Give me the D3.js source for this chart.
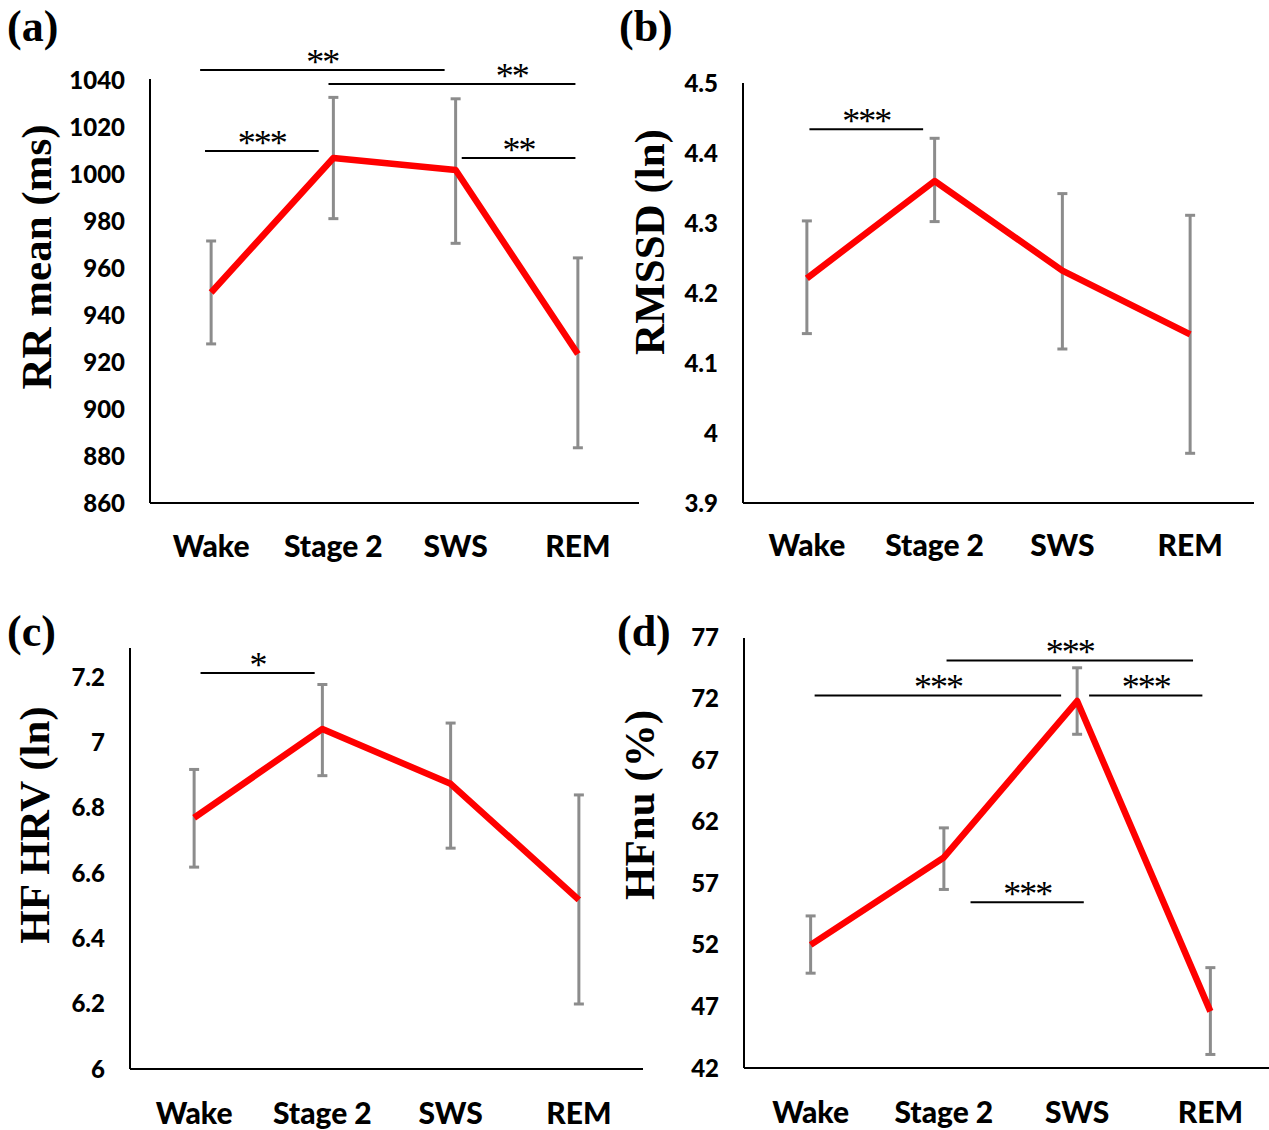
<!DOCTYPE html>
<meta charset="utf-8">
<style>
	body { margin: 0; background: #fff; }
	.axis-line { stroke: #000; stroke-width: 2px; }
	.tick-label { font-family: Lato, "Open Sans", sans-serif; font-weight: 900; font-size: 24px; fill: #000; }
	.cat-label { font-family: Lato, "Open Sans", sans-serif; font-weight: 900; font-size: 30px; fill: #000; }
	.y-title { font-family: "Liberation Serif", serif; font-weight: 700; font-size: 43px; fill: #000; }
	.panel-label { font-family: "Liberation Serif", serif; font-weight: 700; font-size: 44px; fill: #000; }
	.errbar { stroke: #8c8c8c; stroke-width: 3px; fill: none; }
	.series { stroke: #ff0000; stroke-width: 6.5px; fill: none; stroke-linejoin: round; }
	.sig line { stroke: #000; stroke-width: 2px; }
	.sig text { font-family: "Liberation Serif", serif; font-size: 36px; letter-spacing: -2px; fill: #000; }
</style>
<svg width="1269" height="1130"></svg>
<script src="https://d3js.org/d3.v7.min.js"></script>
<script>

	var stages = ["Wake", "Stage 2", "SWS", "REM"];

	// (a) RR mean
	var rrMean = [949.6, 1006.8, 1001.7, 923.4];
	var rrLow = [927.7, 981, 970.5, 883.5];
	var rrHigh = [971.5, 1032.6, 1032, 964.3];
	var rrTicks = [860, 880, 900, 920, 940, 960, 980, 1000, 1020, 1040];
	var rrSig = [
		{ from: -0.09, to: 1.91, y: 1044.3, label: "**" },
		{ from: 0.96, to: 2.98, y: 1038.3, label: "**", at: 2.46 },
		{ from: -0.05, to: 0.88, y: 1009.8, label: "***" },
		{ from: 2.05, to: 2.98, y: 1006.8, label: "**" }
	];

	// (b) RMSSD
	var rmssdMean = [4.221, 4.36, 4.232, 4.141];
	var rmssdLow = [4.142, 4.302, 4.12, 3.971];
	var rmssdHigh = [4.303, 4.421, 4.342, 4.311];
	var rmssdTicks = [3.9, 4, 4.1, 4.2, 4.3, 4.4, 4.5];
	var rmssdSig = [
		{ from: 0.02, to: 0.91, y: 4.434, label: "***" }
	];

	// (c) HF HRV
	var hfMean = [6.769, 7.041, 6.873, 6.518];
	var hfLow = [6.618, 6.898, 6.676, 6.199];
	var hfHigh = [6.917, 7.177, 7.059, 6.839];
	var hfTicks = [6, 6.2, 6.4, 6.6, 6.8, 7, 7.2];
	var hfSig = [
		{ from: 0.05, to: 0.94, y: 7.212, label: "*" }
	];

	// (d) HFnu
	var hfnuMean = [52.0, 59.1, 71.8, 46.6];
	var hfnuLow = [49.7, 56.5, 69.1, 43.1];
	var hfnuHigh = [54.35, 61.5, 74.5, 50.15];
	var hfnuTicks = [42, 47, 52, 57, 62, 67, 72, 77];
	var hfnuSig = [
		{ from: 1.02, to: 2.87, y: 75.1, label: "***" },
		{ from: 0.03, to: 1.88, y: 72.25, label: "***" },
		{ from: 2.09, to: 2.94, y: 72.25, label: "***" },
		{ from: 1.2, to: 2.05, y: 55.45, label: "***" }
	];

	var svg = d3.select("svg");

	var panels = [
		{ tag: "(a)", title: "RR mean (ms)", mean: rrMean, low: rrLow, high: rrHigh, ticks: rrTicks, sig: rrSig,
			left: 150, right: 639, top: 79, y0: 503, y1: 80, domain: [860, 1040], catY: 557,
			tagX: 7, tagY: 41, titleX: 36, titleY: 257 },
		{ tag: "(b)", title: "RMSSD (ln)", mean: rmssdMean, low: rmssdLow, high: rmssdHigh, ticks: rmssdTicks, sig: rmssdSig,
			left: 743, right: 1254, top: 83, y0: 503, y1: 83, domain: [3.9, 4.5], catY: 556,
			tagX: 619, tagY: 41, titleX: 649, titleY: 242 },
		{ tag: "(c)", title: "HF HRV (ln)", mean: hfMean, low: hfLow, high: hfHigh, ticks: hfTicks, sig: hfSig,
			left: 130, right: 643, top: 648, y0: 1069, y1: 677, domain: [6, 7.2], catY: 1124,
			tagX: 7, tagY: 646, titleX: 34, titleY: 825 },
		{ tag: "(d)", title: "HFnu (%)", mean: hfnuMean, low: hfnuLow, high: hfnuHigh, ticks: hfnuTicks, sig: hfnuSig,
			left: 744, right: 1277, top: 638, y0: 1068, y1: 637, domain: [42, 77], catY: 1123,
			tagX: 617, tagY: 646, titleX: 639, titleY: 805 }
	];

	panels.forEach(function (p) {
		var g = svg.append("g");

		var x = d3.scalePoint().domain(stages).range([p.left, p.right]).padding(0.5);
		var y = d3.scaleLinear().domain(p.domain).range([p.y0, p.y1]);
		var xi = function (i) { return x(stages[0]) + i * x.step(); };

		var rows = stages.map(function (s, i) {
			return { stage: s, mean: p.mean[i], low: p.low[i], high: p.high[i] };
		});

		// axes: plain lines, no ticks
		g.append("line").attr("class", "axis-line")
			.attr("x1", p.left).attr("x2", p.left)
			.attr("y1", p.top).attr("y2", p.y0);
		g.append("line").attr("class", "axis-line")
			.attr("x1", p.left).attr("x2", p.right)
			.attr("y1", p.y0).attr("y2", p.y0);

		g.selectAll(".tick-label")
			.data(p.ticks)
			.enter().append("text")
			.attr("class", "tick-label")
			.attr("x", p.left - 25)
			.attr("y", function (d) { return y(d); })
			.attr("dy", "0.36em")
			.attr("text-anchor", "end")
			.text(function (d) { return d; });

		g.selectAll(".cat-label")
			.data(stages)
			.enter().append("text")
			.attr("class", "cat-label")
			.attr("x", function (d) { return x(d); })
			.attr("y", p.catY)
			.attr("text-anchor", "middle")
			.text(function (d) { return d; });

		g.append("text")
			.attr("class", "y-title")
			.attr("transform", "translate(" + p.titleX + "," + p.titleY + ") rotate(-90)")
			.attr("dy", "0.35em")
			.attr("text-anchor", "middle")
			.text(p.title);

		g.append("text")
			.attr("class", "panel-label")
			.attr("x", p.tagX)
			.attr("y", p.tagY)
			.text(p.tag);

		// error bars
		var eb = g.selectAll(".eb")
			.data(rows)
			.enter().append("g")
			.attr("class", "errbar");
		eb.append("line")
			.attr("x1", function (d) { return x(d.stage); })
			.attr("x2", function (d) { return x(d.stage); })
			.attr("y1", function (d) { return y(d.low); })
			.attr("y2", function (d) { return y(d.high); });
		eb.append("line")
			.attr("x1", function (d) { return x(d.stage) - 5; })
			.attr("x2", function (d) { return x(d.stage) + 5; })
			.attr("y1", function (d) { return y(d.low); })
			.attr("y2", function (d) { return y(d.low); });
		eb.append("line")
			.attr("x1", function (d) { return x(d.stage) - 5; })
			.attr("x2", function (d) { return x(d.stage) + 5; })
			.attr("y1", function (d) { return y(d.high); })
			.attr("y2", function (d) { return y(d.high); });

		var line = d3.line()
			.x(function (d) { return x(d.stage); })
			.y(function (d) { return y(d.mean); });

		g.append("path")
			.datum(rows)
			.attr("class", "series")
			.attr("d", line);

		// significance brackets
		var sig = g.selectAll(".sig")
			.data(p.sig)
			.enter().append("g")
			.attr("class", "sig");
		sig.append("line")
			.attr("x1", function (d) { return xi(d.from); })
			.attr("x2", function (d) { return xi(d.to); })
			.attr("y1", function (d) { return y(d.y); })
			.attr("y2", function (d) { return y(d.y); });
		sig.append("text")
			.attr("x", function (d) { return xi(d.at != null ? d.at : (d.from + d.to) / 2); })
			.attr("y", function (d) { return y(d.y) + 4; })
			.attr("text-anchor", "middle")
			.text(function (d) { return d.label; });
	});

</script>
